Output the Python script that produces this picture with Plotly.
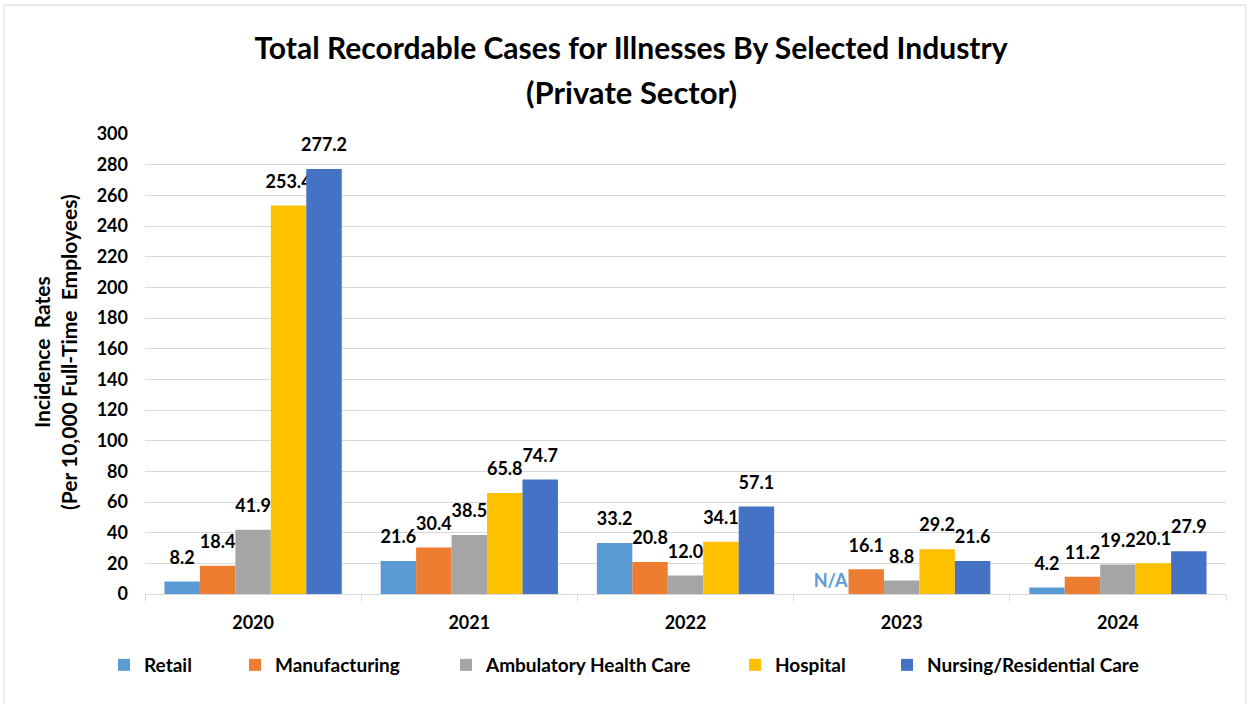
import plotly.graph_objects as go

years = ["2020", "2021", "2022", "2023", "2024"]
series_names = ["Retail", "Manufacturing", "Ambulatory Health Care", "Hospital", "Nursing/Residential Care"]
retail = [8.2, 21.6, 33.2, 0, 4.2]
retail_text = ["8.2", "21.6", "33.2", "N/A", "4.2"]
manufacturing = [18.4, 30.4, 20.8, 16.1, 11.2]
ambulatory = [41.9, 38.5, 12.0, 8.8, 19.2]
hospital = [253.4, 65.8, 34.1, 29.2, 20.1]
nursing = [277.2, 74.7, 57.1, 21.6, 27.9]
colors = ["#5B9BD5", "#ED7D31", "#A5A5A5", "#FFC000", "#4472C4"]
y_ticks = list(range(0, 301, 20))

FONT = "Lato, Roboto, sans-serif"
W, H = 1250, 704
ml, mr, mt, mb = 145, 24, 134, 110
pw = W - ml - mr
ph = H - mt - mb
LABEL_LIFT = 7  # data-label gap above bar, in axis units

values = [retail, manufacturing, ambulatory, hospital, nursing]
legend_text_left = [148, 279, 490, 779, 931]  # px where each legend label begins

fig = go.Figure()
for i, (name, vals) in enumerate(zip(series_names, values)):
    lg = "legend" if i == 0 else f"legend{i + 1}"
    if i == 0:
        text = retail_text
    else:
        text = [f"{v:.1f}" for v in vals]
    tcolors = ["#5B9BD5" if t == "N/A" else "#000000" for t in text]
    lifts = [0 if t == "N/A" else LABEL_LIFT for t in text]
    fig.add_trace(go.Bar(
        x=years, y=vals, name=name, offsetgroup=str(i), legend=lg,
        marker=dict(color=colors[i], line=dict(width=0)),
    ))
    fig.add_trace(go.Bar(
        x=years, y=lifts, base=vals, offsetgroup=str(i), showlegend=False,
        marker=dict(color="rgba(0,0,0,0)", line=dict(width=0)),
        text=text, textposition="outside", textangle=0,
        textfont=dict(family=FONT, size=18, color=tcolors, weight="bold"),
        constraintext="none", cliponaxis=False, hoverinfo="skip",
    ))

legends = {}
for i in range(5):
    key = "legend" if i == 0 else f"legend{i + 1}"
    legends[key] = dict(
        orientation="h", x=(legend_text_left[i] - 44 - ml) / pw, xanchor="left",
        y=-(665 - (H - mb)) / ph, yanchor="middle",
        font=dict(family=FONT, size=19, color="#000000", weight="bold"),
        bgcolor="rgba(0,0,0,0)", itemwidth=30,
    )

fig.update_layout(
    width=W, height=H,
    margin=dict(l=ml, r=mr, t=mt, b=mb),
    paper_bgcolor="white", plot_bgcolor="white",
    barmode="group", bargap=0.18, bargroupgap=0,
    font=dict(family=FONT, color="#000000"),
    title=dict(
        text="<b>Total Recordable Cases for Illnesses By Selected Industry</b>",
        x=631 / W, xanchor="center", y=1 - 48 / H, yanchor="middle",
        font=dict(family=FONT, size=30, color="#000000"),
    ),
    showlegend=True,
    **legends,
)
fig.add_annotation(
    text="<b>(Private Sector)</b>", xref="paper", yref="paper",
    x=(631 - ml) / pw, y=1 + (mt - 92) / ph, xanchor="center", yanchor="middle",
    showarrow=False, font=dict(family=FONT, size=31, color="#000000"),
)
fig.add_annotation(
    text="<b>Incidence  Rates<br>(Per 10,000 Full-Time  Employees)</b>",
    xref="paper", yref="paper", textangle=-90,
    x=(55 - ml) / pw, y=(H - mb - 352) / ph, xanchor="center", yanchor="middle",
    showarrow=False, font=dict(family=FONT, size=21, color="#000000"),
)
fig.update_xaxes(
    showline=True, linecolor="#D9D9D9", linewidth=1,
    ticks="outside", tickson="boundaries", ticklen=6, tickcolor="#D9D9D9",
    tickfont=dict(family=FONT, size=18, color="#000000", weight="bold"),
    ticklabelstandoff=12,
    showgrid=False,
)
fig.update_yaxes(
    range=[0, 300], tickvals=y_ticks,
    showgrid=True, gridcolor="#D9D9D9", gridwidth=1,
    showline=False, zeroline=False, ticks="",
    tickfont=dict(family=FONT, size=18, color="#000000", weight="bold"),
    ticklabelstandoff=16,
)

# chart border
fig.add_shape(type="rect", xref="paper", yref="paper",
              x0=(4 - ml) / pw, x1=(1246 - ml) / pw,
              y0=(mb - 700) / ph, y1=(H - 5 - mb) / ph,
              line=dict(color="#D9D9D9", width=1), fillcolor="rgba(0,0,0,0)", layer="below")

fig.write_html("out.html", config={"displayModeBar": False},
               post_script="document.body.style.margin='0px';")
